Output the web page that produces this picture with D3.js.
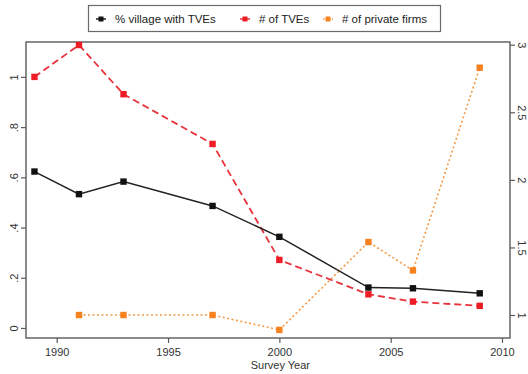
<!DOCTYPE html>
<html>
<head>
<meta charset="utf-8">
<script src="https://cdn.jsdelivr.net/npm/d3@7"></script>
<style>
  html, body { margin: 0; padding: 0; background: #fff; }
  svg text { font-family: "Liberation Sans", Arial, sans-serif; }
</style>
</head>
<body>
<svg id="chart" width="528" height="374"></svg>
<script>
// Survey years and series
const yearsShare = [1989, 1991, 1993, 1997, 2000, 2004, 2006, 2009];
const shareVillagesTVE = [0.623, 0.533, 0.583, 0.486, 0.363, 0.161, 0.158, 0.138];

const yearsTVE = [1989, 1991, 1993, 1997, 2000, 2004, 2006, 2009];
const numTVEs = [1.0, 1.127, 0.931, 0.733, 0.271, 0.134, 0.105, 0.088];

const yearsPrivate = [1991, 1993, 1997, 2000, 2004, 2006, 2009];
const numPrivateFirms = [1.0, 1.0, 1.0, 0.89, 1.54, 1.33, 2.83];

// Axis ticks
const xTicks = [1990, 1995, 2000, 2005, 2010];
const leftTicks = [0, 0.2, 0.4, 0.6, 0.8, 1];
const leftTickLabels = ["0", ".2", ".4", ".6", ".8", "1"];
const rightTicks = [1, 1.5, 2, 2.5, 3];
const rightTickLabels = ["1", "1.5", "2", "2.5", "3"];

const seriesNames = ["% village with TVEs", "# of TVEs", "# of private firms"];

const FONT = "Liberation Sans, Arial, sans-serif";
const svg = d3.select("#chart");
const L = 26, R = 510, T = 42, B = 338;

const x = d3.scaleLinear().domain([1988.62, 2010.36]).range([L, R]);
const yL = d3.scaleLinear().domain([-0.04, 1.139]).range([B, T]);
const yR = d3.scaleLinear().domain([0.83, 3.02]).range([B, T]);

const frame = "#5a5a5a";
const textCol = "#333";

// Plot frame
svg.append("rect")
  .attr("x", L).attr("y", T).attr("width", R - L).attr("height", B - T)
  .attr("fill", "#fff").attr("stroke", frame).attr("stroke-width", 1.4);

// Bottom axis
const xAxis = svg.append("g").attr("transform", `translate(0,${B})`)
  .call(d3.axisBottom(x).tickValues(xTicks).tickFormat(d3.format("d")).tickSize(5).tickPadding(5));
xAxis.attr("font-family", FONT);
xAxis.select(".domain").remove();
xAxis.selectAll("line").attr("stroke", frame).attr("stroke-width", 1.2);
xAxis.selectAll("text").attr("fill", textCol).attr("font-size", 11);

svg.append("text").attr("x", (x(1990) + x(2010)) / 2 + 1).attr("y", 369)
  .attr("text-anchor", "middle").attr("font-size", 11).attr("fill", textCol)
  .attr("font-family", FONT)
  .text("Survey Year");

// Left axis
const yAxisL = svg.append("g").attr("transform", `translate(${L},0)`)
  .call(d3.axisLeft(yL).tickValues(leftTicks).tickFormat((d, i) => leftTickLabels[i]).tickSize(5));
yAxisL.attr("font-family", FONT);
yAxisL.select(".domain").remove();
yAxisL.selectAll("line").attr("stroke", frame).attr("stroke-width", 1.2);
yAxisL.selectAll("text")
  .attr("fill", textCol).attr("font-size", 11)
  .attr("x", null)
  .attr("text-anchor", "middle")
  .attr("transform", "translate(-12,0) rotate(-90)")
  .attr("y", 0).attr("dy", "0.35em");

// Right axis
const yAxisR = svg.append("g").attr("transform", `translate(${R},0)`)
  .call(d3.axisRight(yR).tickValues(rightTicks).tickFormat((d, i) => rightTickLabels[i]).tickSize(5));
yAxisR.attr("font-family", FONT);
yAxisR.select(".domain").remove();
yAxisR.selectAll("line").attr("stroke", frame).attr("stroke-width", 1.2);
yAxisR.selectAll("text")
  .attr("fill", textCol).attr("font-size", 11)
  .attr("x", null)
  .attr("text-anchor", "middle")
  .attr("transform", "translate(12,0) rotate(90)")
  .attr("y", 0).attr("dy", "0.35em");

// Series
const series = [
  { years: yearsShare, values: shareVillagesTVE, scale: yL, color: "#111", line: "#222", dash: null, w: 1.5 },
  { years: yearsTVE, values: numTVEs, scale: yL, color: "#ee1c25", line: "#e8323c", dash: "7,4", w: 1.8 },
  { years: yearsPrivate, values: numPrivateFirms, scale: yR, color: "#f5821f", line: "#f59a45", dash: "2,2.5", w: 1.6 }
];

series.slice().reverse().forEach(s => {
  const pts = s.years.map((yr, i) => [yr, s.values[i]]);
  const line = d3.line().x(d => x(d[0])).y(d => s.scale(d[1]));
  svg.append("path").datum(pts)
    .attr("d", line).attr("fill", "none")
    .attr("stroke", s.line).attr("stroke-width", s.w)
    .attr("stroke-dasharray", s.dash);
  svg.selectAll(null).data(pts).enter().append("rect")
    .attr("x", d => x(d[0]) - 3.2).attr("y", d => s.scale(d[1]) - 3.2)
    .attr("width", 6.4).attr("height", 6.4)
    .attr("fill", s.color);
});

// Legend
const lg = svg.append("g").attr("font-family", FONT);
lg.append("rect").attr("x", 88.5).attr("y", 5.5).attr("width", 352).attr("height", 26)
  .attr("fill", "#fff").attr("stroke", "#6a6a6a").attr("stroke-width", 1.2);
const legendX = [96, 240, 323];
seriesNames.forEach((name, i) => {
  const s = series[i];
  const g = lg.append("g").attr("transform", `translate(${legendX[i]},19)`);
  g.append("line").attr("x1", 0).attr("x2", 10).attr("y1", 0).attr("y2", 0)
    .attr("stroke", s.line).attr("stroke-width", 1.5)
    .attr("stroke-dasharray", i === 2 ? "1.5,1.5" : null);
  g.append("rect").attr("x", 2.5).attr("y", -2.5).attr("width", 5).attr("height", 5).attr("fill", s.color);
  g.append("text").attr("x", 19).attr("y", 0).attr("dy", "0.35em")
    .attr("font-size", 11.5).attr("fill", "#222").text(name);
});
</script>
</body>
</html>
